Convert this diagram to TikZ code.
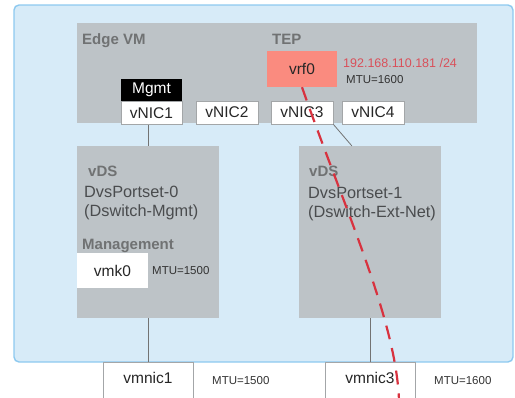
\documentclass[tikz,border=0pt]{standalone}
\usepackage{fontspec}
\setmainfont{Liberation Sans}
\usetikzlibrary{calc}
\definecolor{hostfill}{HTML}{D7EBF8}
\definecolor{hostline}{HTML}{8DC9EF}
\definecolor{vmgray}{HTML}{BDC3C7}
\definecolor{labelgray}{HTML}{707273}
\definecolor{textgray}{HTML}{4A4C4E}
\definecolor{boxline}{HTML}{A3A6A8}
\definecolor{tepfill}{HTML}{FA8B7F}
\definecolor{tepred}{HTML}{D8323F}
\definecolor{iptext}{HTML}{D9505A}
\tikzset{
  grayblock/.style={fill=vmgray, draw=none, inner sep=0pt},
  nicbox/.style={fill=white, draw=boxline, line width=0.8pt, inner sep=0pt,
    minimum height=23pt, font=\fontsize{15.5}{16}\selectfont, text=black!85},
  boldlabel/.style={anchor=base west, inner sep=0pt, text=labelgray,
    font=\bfseries\fontsize{15}{16}\selectfont},
  bodytext/.style={anchor=base west, inner sep=0pt, text=textgray,
    font=\fontsize{16.3}{17}\selectfont},
  smalltext/.style={anchor=base west, inner sep=0pt, text=black!80,
    font=\fontsize{11.5}{12}\selectfont},
  wire/.style={draw=black!55, line width=0.8pt},
  tunnel/.style={draw=tepred, line width=2.2pt, dash pattern=on 14pt off 9pt}
}
\begin{document}
\begin{tikzpicture}[x=1pt, y=-1pt]
\useasboundingbox (0,0) rectangle (515,397);
\clip (0,0) rectangle (515,397);

% host
\node[draw=hostline, fill=hostfill, line width=1.4pt, rounded corners=5pt,
  minimum width=499pt, minimum height=357pt, inner sep=0pt] (host) at (263.5,183.5) {};

% edge VM
\node[grayblock, minimum width=400pt, minimum height=100pt] (edgevm) at (277,73) {};
\node[boldlabel] (edgelbl) at (82,44) {Edge VM};
\node[boldlabel] (teplbl) at (272,44) {TEP};
\node[fill=tepfill, inner sep=0pt, minimum width=70pt, minimum height=36pt,
  font=\fontsize{15.5}{16}\selectfont, text=black!85] (vrf0) at (302,69) {vrf0};
\node[anchor=base west, inner sep=0pt, text=iptext, font=\fontsize{12.5}{13}\selectfont]
  (ip) at (343,67) {192.168.110.181 /24};
\node[smalltext] (mtutep) at (346,83) {MTU=1600};

\node[fill=black, inner sep=0pt, minimum width=61pt, minimum height=22pt,
  text=white, font=\fontsize{15.5}{16}\selectfont] (mgmt) at (151.5,90) {Mgmt};
\node[nicbox, minimum width=61pt] (vnic1) at (151.5,113) {vNIC1};
\node[nicbox, minimum width=62pt] (vnic2) at (227,112.5) {vNIC2};
\node[nicbox, minimum width=62pt] (vnic3) at (302,112.5) {vNIC3};
\node[nicbox, minimum width=62pt] (vnic4) at (373,112.5) {vNIC4};

% distributed switches
\node[grayblock, minimum width=142pt, minimum height=172pt] (vds0) at (148,232) {};
\node[boldlabel] (vds0lbl) at (88,176) {vDS};
\node[bodytext] (vds0name) at (84,197) {DvsPortset-0};
\node[bodytext] (vds0sw) at (84,216) {(Dswitch-Mgmt)};
\node[boldlabel] (mgmtlbl) at (82,249) {Management};
\node[fill=white, inner sep=0pt, minimum width=71pt, minimum height=35pt,
  font=\fontsize{15.5}{16}\selectfont, text=black!85] (vmk0) at (112.5,270.5) {vmk0};
\node[smalltext] (mtuvmk) at (152,274) {MTU=1500};

\node[grayblock, minimum width=142pt, minimum height=172pt] (vds1) at (370,232) {};
\node[boldlabel] (vds1lbl) at (309,176) {vDS};
\node[bodytext] (vds1name) at (308,198) {DvsPortset-1};
\node[bodytext] (vds1sw) at (308,217) {(Dswitch-Ext-Net)};

% physical uplinks
\node[nicbox, minimum width=90pt, minimum height=50pt] (vmnic1) at (148,387) {};
\node[font=\fontsize{15.5}{16}\selectfont, text=black!85, inner sep=0pt] (vmnic1t) at (148,378) {vmnic1};
\node[smalltext] (mtu1) at (212,384) {MTU=1500};
\node[nicbox, minimum width=90pt, minimum height=50pt] (vmnic3) at (370,387) {};
\node[font=\fontsize{15.5}{16}\selectfont, text=black!85, inner sep=0pt] (vmnic3t) at (370,378) {vmnic3};
\node[smalltext] (mtu3) at (434,384) {MTU=1600};

% connections
\draw[wire] (vds0.north) -- (vds0.north |- vnic1.south);
\coordinate (vds1in) at ($(vds1.north west)+(53,0)$);
\draw[wire] (vnic3.south east) -- (vds1in);
\draw[wire] (vds0.south) -- (vmnic1.north);
\draw[wire] (vds1.south) -- (vmnic3.north);

% TEP overlay path
\coordinate (tunnelend) at (399,400);
\draw[tunnel] (vrf0.south) .. controls (345,210) and (396,320) .. (tunnelend);
\end{tikzpicture}
\end{document}
